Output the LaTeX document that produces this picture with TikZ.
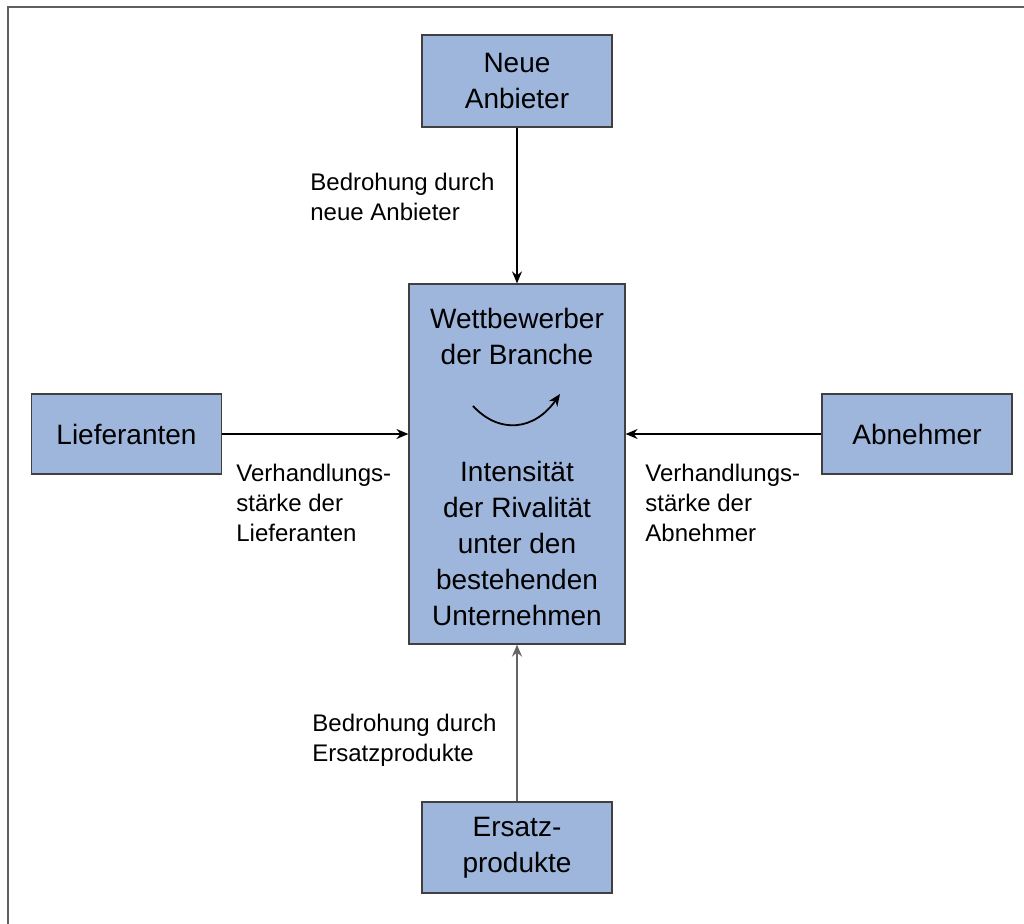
\documentclass[tikz,border=0pt]{standalone}
\usepackage{fontspec}
\setmainfont{Liberation Sans}
\usetikzlibrary{arrows.meta}
\definecolor{boxblue}{RGB}{158,181,220}
\definecolor{framegray}{RGB}{95,95,95}

\begin{document}
\begin{tikzpicture}[x=0.5pt,y=-0.5pt, >={Stealth[length=6pt,width=5pt]},
  force/.style={draw=black!75,fill=boxblue,line width=0.6pt,inner sep=0pt,align=center,
    font=\fontsize{14}{18}\selectfont},
  lbl/.style={inner sep=0pt,align=left,anchor=west,font=\fontsize{12}{15}\selectfont},
  ctext/.style={inner sep=0pt,align=center,font=\fontsize{14}{18}\selectfont}]
\useasboundingbox (0,0) rectangle (1024,924);
\draw[framegray, line width=1pt] (7.5,924) -- (7.5,7.5) -- (1024,7.5);

\node (neu) at (517,81) [force,minimum width=95pt,minimum height=46pt] {Neue\\Anbieter};
\node (wb) at (517,464) [force,minimum width=108pt,minimum height=180pt] {};
\node (lief) at (126.5,434) [force,minimum width=95pt,minimum height=40pt] {Lieferanten};
\node (abn) at (917,434) [force,minimum width=95pt,minimum height=40pt] {Abnehmer};
\node (ers) at (517,847.5) [force,minimum width=95pt,minimum height=45.5pt] {Ersatz-\\produkte};

\node (wbtop) at (517,336) [ctext] {Wettbewerber\\der Branche};
\node (wbbot) at (517,543) [ctext] {Intensität\\der Rivalität\\unter den\\bestehenden\\Unternehmen};
\coordinate (rs) at (473,406);
\coordinate (re) at (560,394);
\draw[->, line width=0.9pt] (rs) .. controls (500,435) and (535,430) .. (re);

\node (lneu) at (310,197) [lbl] {Bedrohung durch\\neue Anbieter};
\node (llief) at (236,503) [lbl] {Verhandlungs-\\stärke der\\Lieferanten};
\node (labn) at (645,503) [lbl] {Verhandlungs-\\stärke der\\Abnehmer};
\node (lers) at (312,740) [lbl] {Bedrohung durch\\Ersatzprodukte};

\draw[->, line width=0.7pt] (neu) -- (wb);
\draw[->, line width=0.7pt] (lief.east) -- (lief.east -| wb.west);
\draw[->, line width=0.7pt] (abn.west) -- (abn.west -| wb.east);
\draw[->, line width=1pt, black!60] (ers) -- (wb);
\end{tikzpicture}
\end{document}
